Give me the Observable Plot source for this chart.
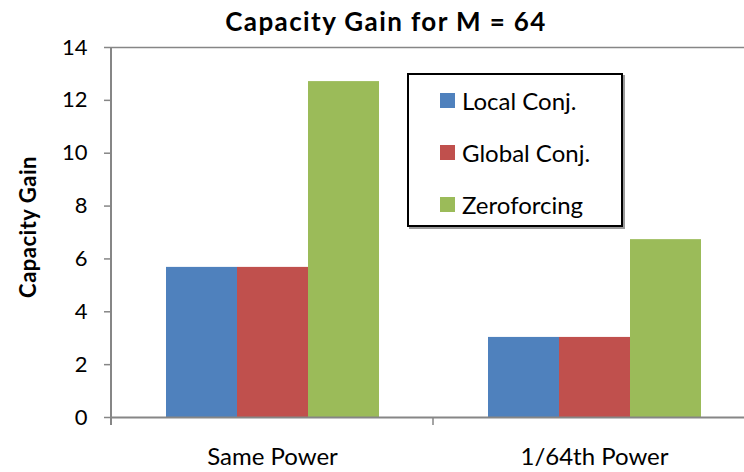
<!DOCTYPE html>
<html>
<head>
<meta charset="utf-8">
<script src="https://cdn.jsdelivr.net/npm/d3@7"></script>
<script src="https://cdn.jsdelivr.net/npm/@observablehq/plot@0.6"></script>
<style>
  html, body { margin: 0; padding: 0; background: #fff; overflow: hidden; }
  #chart { position: relative; width: 744px; height: 472px; overflow: hidden; font-family: Lato, "Open Sans", sans-serif; }
  #chart svg { overflow: hidden; }
  .title { position: absolute; left: 0; width: 772px; top: 5px; text-align: center; font-weight: bold; font-size: 26px; letter-spacing: 1.4px; color: #000; white-space: nowrap; }
  .ylabel { position: absolute; left: 27px; top: 227px; transform: translate(-50%, -50%) rotate(-90deg); font-weight: bold; font-size: 22px; letter-spacing: 0.5px; white-space: nowrap; }
  .legend { position: absolute; left: 407px; top: 73px; width: 212px; height: 150px; border: 2px solid #000; box-shadow: 2px 2px 0 #9a9a9a; background: #fff; }
  .legend .row { position: absolute; left: 31px; height: 30px; display: flex; align-items: center; font-size: 24px; white-space: nowrap; }
  .legend .sw { width: 15px; height: 15px; margin-right: 7px; }
</style>
</head>
<body>
<div id="chart"></div>
<script>
// Capacity gain of each precoding scheme, M = 64 antennas
const categories = ["Same Power", "1/64th Power"];
const series = ["Local Conj.", "Global Conj.", "Zeroforcing"];
const localConj = [5.68, 3.03];
const globalConj = [5.68, 3.03];
const zeroforcing = [12.71, 6.73];
const yTicks = [0, 2, 4, 6, 8, 10, 12, 14];
const colors = ["#4F81BD", "#C0504D", "#9BBB59"];

const seriesValues = [localConj, globalConj, zeroforcing];
const data = [];
categories.forEach((cat, i) => {
  series.forEach((s, j) => data.push({cat, series: s, value: seriesValues[j][i]}));
});

const axisGray = "#868686";

const plot = Plot.plot({
  width: 744,
  height: 472,
  marginLeft: 111,
  marginRight: -11,
  marginTop: 47,
  marginBottom: 55,
  style: {fontFamily: "Lato, 'Open Sans', sans-serif", color: "#000", background: "#fff"},
  fx: {domain: categories, padding: 0, label: null},
  x: {domain: series, paddingInner: 0, paddingOuter: 0.757, axis: null},
  y: {domain: [0, 14], label: null},
  color: {domain: series, range: colors},
  marks: [
    Plot.ruleY([14], {stroke: axisGray, strokeWidth: 1.5}),
    Plot.barY(data, {fx: "cat", x: "series", y: "value", fill: "series"}),
    Plot.ruleY([0], {stroke: axisGray, strokeWidth: 2}),
    Plot.axisY({ticks: yTicks, tickSize: 7, tickPadding: 17, fontSize: 22, stroke: axisGray, strokeWidth: 1.5, fill: "#000", label: null}),
    Plot.axisFx({anchor: "bottom", tickSize: 0, tickPadding: 30, fontSize: 24, fill: "#000", label: null})
  ]
});

const root = document.getElementById("chart");
root.appendChild(plot);

// Vertical value axis line and category boundary ticks, placed with the plot's scales
const svg = d3.select(plot);
const fx = plot.scale("fx");
const y = plot.scale("y");
const left = fx.apply(categories[0]);
const bounds = categories.map(c => fx.apply(c)).concat([fx.apply(categories[categories.length - 1]) + fx.bandwidth]);
const y0 = y.apply(0), y14 = y.apply(14);
const g = svg.append("g").attr("stroke", axisGray);
g.append("line").attr("x1", left).attr("x2", left).attr("y1", y14).attr("y2", y0 + 8).attr("stroke-width", 2);
g.selectAll(".bt").data(bounds).join("line")
  .attr("x1", d => d).attr("x2", d => d).attr("y1", y0).attr("y2", y0 + 8).attr("stroke-width", 1.5);

// Title and axis label
const title = document.createElement("div");
title.className = "title";
title.textContent = "Capacity Gain for M = 64";
root.appendChild(title);

const ylab = document.createElement("div");
ylab.className = "ylabel";
ylab.textContent = "Capacity Gain";
root.appendChild(ylab);

// Legend box
const legend = document.createElement("div");
legend.className = "legend";
series.forEach((s, j) => {
  const row = document.createElement("div");
  row.className = "row";
  row.style.top = (10 + j * 52) + "px";
  const sw = document.createElement("span");
  sw.className = "sw";
  sw.style.background = colors[j];
  const t = document.createElement("span");
  t.textContent = s;
  row.appendChild(sw);
  row.appendChild(t);
  legend.appendChild(row);
});
root.appendChild(legend);
</script>
</body>
</html>
